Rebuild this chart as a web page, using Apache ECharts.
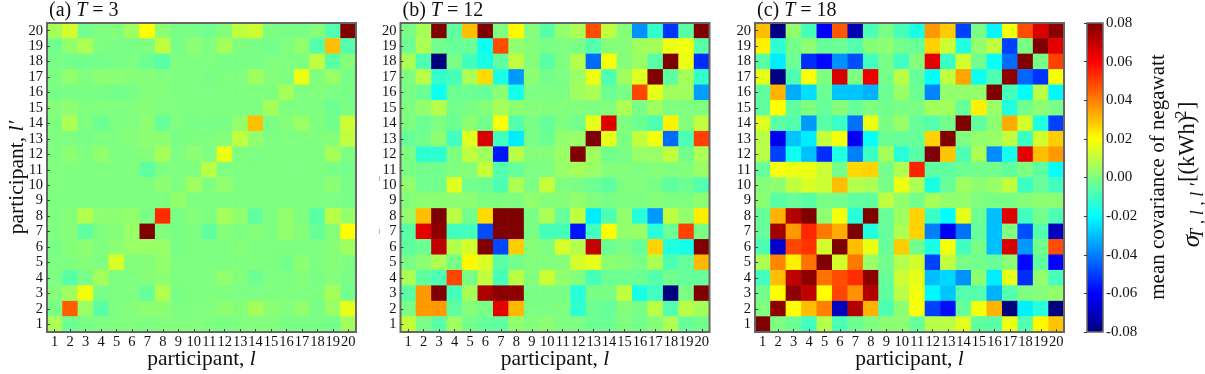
<!DOCTYPE html>
<html>
<head>
<meta charset="utf-8">
<style>
  html, body { margin: 0; padding: 0; background: #fff; }
  #chart { width: 1205px; height: 374px; }
</style>
<script src="https://cdn.jsdelivr.net/npm/echarts@6/dist/echarts.min.js"></script>
</head>
<body>
<div id="chart"></div>
<script>
const participants = ['1','2','3','4','5','6','7','8','9','10','11','12','13','14','15','16','17','18','19','20'];

// values in units of 0.01 (kWh)^2, rows listed from l' = 20 (top) down to l' = 1
const covT3 = [
  [.6,1.3,-.2,0,.05,.5,2,.2,-.1,-.1,-.2,.1,1,1.2,0,-.1,-.1,.1,-.7,8],
  [-.2,.3,.7,0,-.1,-.1,0,1,-.1,.2,0,.6,0,-.1,-.2,0,.3,-.7,3,-.7],
  [-.1,-.2,-.2,-.2,-.1,-.05,-.3,-.6,0,0,0,-.1,-.1,-.1,0,0,0,1,-.6,.1],
  [0,.3,0,.2,.2,.1,.1,0,0,0,-.1,0,0,.5,.1,0,1.7,0,.4,-.1],
  [-.1,-.1,-.1,-.1,-.2,-.1,.1,.1,0,-.05,-.05,0,0,0,0,.6,0,.05,-.05,-.1],
  [.1,.2,0,.05,0,.05,.1,0,0,0,0,0,-.05,0,.6,0,0,0,-.3,-.1],
  [0,.7,0,-.3,0,0,.2,-.4,0,-.1,-.1,-.1,.3,3,-.1,.1,.4,0,-.2,1.2],
  [0,0,-.1,0,0,.1,.2,.2,-.1,0,0,.1,1,.3,-.05,0,0,0,.1,1],
  [0,.2,0,.3,0,0,.1,.6,0,.2,0,1.7,0,-.05,0,0,0,0,.6,0],
  [0,0,0,0,0,0,-.5,0,0,0,.9,0,0,0,0,0,-.05,0,-.1,-.2],
  [0,0,0,0,0,0,0,.2,0,.5,0,.3,0,0,0,0,0,0,.2,-.1],
  [0,0,0,0,0,0,0,0,.3,0,0,0,0,0,0,0,0,0,-.05,-.1],
  [0,.1,.8,.2,.2,.3,-.1,5.3,-.1,.1,0,.6,.3,-.5,0,.3,0,-.6,.9,.3],
  [0,.1,-.5,0,.1,.4,8,0,-.1,0,-.5,.1,0,.1,0,.3,.1,-.4,.1,2],
  [-.1,.1,.2,0,.2,.4,.4,.4,-.1,0,0,0,.1,0,0,0,0,0,.1,.5],
  [0,0,.1,0,1.4,.1,.1,.3,0,0,0,0,0,0,0,-.2,.2,0,.1,0],
  [-.05,-.6,-.1,.6,0,0,.1,.2,0,0,0,.3,.05,-.3,0,0,.1,-.1,.1,-.1],
  [.1,.5,1.8,-.1,0,0,-.4,.8,-.1,0,0,0,-.05,-.05,0,0,0,0,.6,-.2],
  [-.1,4.5,.4,-.6,0,.1,.2,.2,0,0,.05,.2,.1,.6,.2,.05,.3,-.1,.4,1.6],
  [.7,-.3,-.1,-.05,0,.05,-.05,.05,.05,.05,0,-.1,0,.05,.05,-.1,-.1,-.1,-.2,.5]
];

const covT12 = [
  [-.1,.6,8,-.5,3,8,0,2.1,.1,-.6,.3,.7,4.8,1,.1,-3.7,-1.2,-5.2,-.6,8],
  [-.3,.7,-.2,-.4,-.3,-1.8,4.8,.3,.1,-.1,0,-.1,-.7,.1,.1,.5,.6,1.7,1.8,-.6],
  [.7,-.8,-8,-.1,-1,-1.6,-.5,1,.1,-.6,0,.8,-4.3,1.9,.1,.4,-.6,8,1.7,-5.3],
  [0,.9,-1.2,-.9,.7,2.6,-1.6,-3.6,.2,-.2,-.05,.4,1.7,-.8,.5,1.5,8,-.5,.6,-1.2],
  [-.1,-.3,-1.8,-.3,-.3,-.4,.2,-1.7,-.05,-.05,-.05,.5,.7,-.3,-.1,4.9,1.6,.5,.5,-3.5],
  [0,.3,.8,-.2,-.1,.1,.6,.2,.1,.05,.05,.05,0,.05,.7,-.1,.5,0,0,0],
  [0,-.3,-.05,-.3,.2,-.2,1.9,-.7,-.1,-.4,0,-.2,1.6,6.5,0,-.3,-.8,2.2,.1,1],
  [-.4,-.2,.2,-1,1.5,6.6,-1,-2.3,-.1,-.3,.3,.4,8,1.6,0,1,1.8,-4.3,-.8,5],
  [0,-1.3,-1.3,0,1,.5,-5.7,.9,.1,.1,.4,8,.5,-.2,-.1,.4,.4,1,-.2,.7],
  [-.1,-.2,-.2,0,.1,1.1,-.7,-.4,-.05,-.05,.4,.6,.4,.1,.05,0,.1,.05,.05,.4],
  [.3,-.2,-.2,1.5,-.2,-.3,-.8,.7,-.05,1.1,0,-.1,-.3,-.5,0,.05,-.1,-.5,-.3,-.7],
  [.1,.2,.2,.2,.2,0,0,0,.3,.1,.1,.3,.05,-.1,0,0,.1,0,0,.2],
  [.3,3,8,.9,-.2,2.6,8,8,-.1,.7,-.4,1,-2.3,-.8,.3,-1.4,-3.6,1,.3,2.3],
  [-.6,6.4,7.8,-1,-.9,-4.8,8,8,-.1,-.9,-.9,-5.7,-1,2,.3,.4,-1.4,-.3,5,-.1],
  [-.5,-.3,7,.8,1.3,8,-4.9,2.8,.1,0,1.4,.8,6.9,-.3,-.1,-.4,2.7,-1.5,-1.7,8],
  [-.1,.2,.7,-.1,2.1,1.4,-.6,-.2,.05,.05,.1,1.3,1.6,.2,.1,-.1,.7,-.8,-.4,3.1],
  [.7,-.5,-.8,4.9,-.1,1,-.9,.9,.05,1.2,.3,.05,-.9,-.3,-.3,-.3,-.7,-.2,-.4,-.4],
  [-.6,3.6,8,-.9,.6,7.3,7.8,7.8,-.1,-.1,-.1,-1.4,-.1,-.1,1,-1.6,-1,-8,-.1,8],
  [-.1,3.6,3.6,-.5,.1,-.1,6.4,3.1,-.05,-.05,0,-1.3,-.3,-.4,.1,-.1,.9,-.7,.9,.6],
  [1.1,-.1,-.6,.5,-.2,-.4,-.5,.3,.05,.2,-.05,-.05,-.3,-.3,0,-.2,.1,.7,-.4,-.2]
];

const covT18 = [
  [3,-7.9,.3,-.9,-6.1,4.6,-7.2,-.8,-.1,-.9,-1.6,3.6,2.8,-5,-.1,-2.1,1.8,4.8,6.6,7.8],
  [2.2,-1.3,-.2,.2,-.4,-.3,-.7,.1,.2,-.2,-.4,2.7,1.2,-1.5,.3,1,-5,-.1,8,6.4],
  [-.6,-2.3,-.3,-5.3,-5.9,-3.7,-4.8,-1,-.1,-1,.1,6.4,-1.1,1.3,-.2,-1.9,-4.3,8,-.1,5],
  [1.6,-8,-.8,1.9,0,6.6,0,6.3,-.2,.9,-.4,-2,1,3.4,-1.8,-.8,7.8,-4.4,-5.2,1.9],
  [-.5,3.2,-3.3,-2.5,-.3,-2.9,-2.9,-3.2,-.3,.4,-.3,-3.9,.3,.3,.3,8,-.9,-2,.9,-2.1],
  [-.5,2,-.5,0,-.4,.1,-.4,0,-.2,-.1,-.1,.6,.5,-.4,2.2,.4,-1.5,-.2,.2,-.1],
  [1.5,-.6,-.7,-3.6,-.6,-1.1,-4.2,1.7,-.1,.4,-.4,-.7,-.2,8,-.5,.2,3.3,1.3,-1.5,-5],
  [.9,-6.2,-2.9,-2.3,1.1,1.8,-6.2,-1.9,-.3,-.4,-.4,2.7,8,0,.3,.4,1,-1.1,1.3,2.8],
  [.9,-5,-1.8,-3,-5.3,-1.5,-4,-1.1,.6,-1.4,-.6,8,2.9,-.8,.7,-3.8,-1.7,6.4,3,3.6],
  [-.4,1.9,1.7,1.7,1.2,-.2,2.6,2.7,-.2,.7,5.5,-.5,-.5,-.3,-.2,-.2,-.5,0,-.5,-1.9],
  [.1,.2,1,1.4,1.2,3,.8,.7,-.1,1.7,.7,-1.6,-.4,.5,.2,.4,1,-1.1,-.4,-1],
  [.2,-.6,-.4,-.6,-.1,-.2,-.5,-.5,1,.3,-.2,.6,.3,.3,0,-.1,-.1,.1,.2,.2],
  [-.4,3.2,7.2,8,.2,1.8,-1.4,8,-.4,.5,2.7,-1.1,-2,1.6,-.3,-3,6.5,-1,-.2,-.8],
  [-.4,7.4,3.6,5.4,4.1,3.3,8,-1.5,-.4,.7,2.7,-4,-6.2,-4.2,-.4,-3,0,-4.8,-.7,-7],
  [-.8,-6.8,4.9,5.2,1.3,8,3,1.7,-.4,2.8,-.2,-1.6,1.8,-1,-.1,-3,6.6,-3.6,-.2,4.8],
  [.7,3.9,2.2,4.2,8,1.3,4.1,.4,-.2,.8,1.3,-5,1,-.1,-.2,-.4,.2,-5.9,-.5,-6],
  [-1,3,7,7.8,4.2,4.8,5.3,7.8,-.4,1.2,1.6,-3,-2.6,-3.7,.2,-2.3,1.6,-5.3,.3,-.9],
  [-.2,2,7.8,7,2,4.9,3.7,7.2,-.5,.9,1.8,-2.1,-2.9,-.7,-.7,-3.2,-.7,0,.1,.3],
  [0,7.8,2,3,4,-7,7.2,3.2,-.8,.2,1.9,-5,-5.8,-.4,1.8,3.2,-8,-2.2,-1.4,-8],
  [8,0,-.3,-1,.8,-.8,-.3,0,.2,.2,-.4,.9,.9,1.5,-.5,-.6,1.7,-.7,2.1,2.9]
];

const panelTitles = ['(a) {i|T} = 3', '(b) {i|T} = 12', '(c) {i|T} = 18'];
const panelLeft = [47, 400.5, 755];
const jetColors = ['#00007f','#0000ff','#007fff','#00ffff','#7fff7f','#ffff00','#ff7f00','#ff0000','#7f0000'];

const serif = '"Liberation Serif", "Times New Roman", serif';
const ink = '#111';
const frame = '#666';
const gridSize = 309;

const toCells = (rows) => {
  const cells = [];
  rows.forEach((row, r) => {
    row.forEach((v, c) => cells.push([c, rows.length - 1 - r, v / 100]));
  });
  return cells;
};

const labelRich = (size) => ({
  i: { fontFamily: serif, fontStyle: 'italic', fontSize: size, color: ink }
});

const cellTick = { show: true, inside: true, alignWithLabel: true, length: 3, lineStyle: { color: '#444', width: 1 } };

const getOptionChart = () => {
  const grids = panelLeft.map((left) => ({
    left: left, top: 23, width: gridSize, height: gridSize, outerBoundsMode: 'none',
    show: true, z: 5, backgroundColor: 'transparent', borderColor: frame, borderWidth: 2
  }));
  grids.push({
    left: 1087, top: 23, width: 16, height: gridSize, outerBoundsMode: 'none',
    show: true, z: 10, backgroundColor: 'transparent', borderColor: frame, borderWidth: 1.5
  });

  const xAxes = panelLeft.map((_, i) => ({
    type: 'category', gridIndex: i, data: participants, z: 6,
    axisLine: { show: false }, axisTick: cellTick,
    axisLabel: { interval: 0, margin: 3, fontFamily: serif, fontSize: 14.5, color: ink },
    name: 'participant, {i|l}', nameLocation: 'middle', nameGap: 16, nameMoveOverlap: false,
    nameTextStyle: { fontFamily: serif, fontSize: 21.5, color: ink, rich: labelRich(21.5) }
  }));
  xAxes.push({ type: 'value', gridIndex: 3, show: false, min: 0, max: 1 });

  const yAxes = panelLeft.map((_, i) => ({
    type: 'category', gridIndex: i, data: participants, z: 6,
    axisLine: { show: false }, axisTick: cellTick,
    axisLabel: { interval: 0, margin: 4, fontFamily: serif, fontSize: 14.5, color: ink },
    name: i === 0 ? 'participant, {i|l′}' : '', nameLocation: 'middle', nameGap: 19, nameMoveOverlap: false,
    nameTextStyle: { fontFamily: serif, fontSize: 21.5, color: ink, rich: labelRich(21.5) }
  }));
  yAxes.push({
    type: 'value', gridIndex: 3, position: 'right', min: -0.08, max: 0.08, interval: 0.02, z: 10,
    splitLine: { show: false },
    axisLine: { show: false },
    axisTick: { show: true, inside: true, length: 3, lineStyle: { color: '#333' } },
    axisLabel: {
      margin: 3, fontFamily: serif, fontSize: 15, color: ink,
      formatter: (v) => v.toFixed(2)
    }
  });

  return {
    animation: false,
    backgroundColor: '#fff',
    title: panelTitles.map((text, i) => ({
      text: text, left: panelLeft[i] + 2, top: 1, padding: 0,
      textStyle: { fontFamily: serif, fontSize: 20, fontWeight: 'normal', color: ink, rich: labelRich(20) }
    })),
    grid: grids,
    xAxis: xAxes,
    yAxis: yAxes,
    visualMap: {
      type: 'continuous', min: -0.08, max: 0.08, seriesIndex: [0, 1, 2],
      left: 1087, top: 23, itemWidth: 16, itemHeight: gridSize, padding: 0,
      text: ['', ''], showLabel: false, calculable: false, realtime: false,
      inRange: { color: jetColors }
    },
    series: [covT3, covT12, covT18].map((rows, i) => ({
      type: 'heatmap', xAxisIndex: i, yAxisIndex: i, data: toCells(rows),
      itemStyle: { borderWidth: 0 }, emphasis: { disabled: true }, progressive: 0
    })),
    graphic: [
      {
        type: 'text', rotation: Math.PI / 2, x: 1158, y: 177, z: 20,
        style: { text: 'mean covariance of negawatt', fontFamily: serif, fontSize: 21, fill: ink, align: 'center', verticalAlign: 'middle' }
      },
      {
        type: 'text', rotation: Math.PI / 2, x: 1192, y: 241, z: 20,
        style: { text: 'σ', fontFamily: serif, fontStyle: 'italic', fontSize: 25, fill: ink, align: 'center', verticalAlign: 'middle' }
      },
      {
        type: 'text', rotation: Math.PI / 2, x: 1198, y: 211, z: 20,
        style: { text: 'T , l , l ′', fontFamily: serif, fontStyle: 'italic', fontSize: 18, fill: ink, align: 'center', verticalAlign: 'middle' }
      },
      {
        type: 'text', rotation: Math.PI / 2, x: 1188, y: 182, z: 20,
        style: { text: '[(kWh)', fontFamily: serif, fontSize: 22.5, fill: ink, align: 'left', verticalAlign: 'middle' }
      },
      {
        type: 'text', rotation: Math.PI / 2, x: 1182, y: 119, z: 20,
        style: { text: '2', fontFamily: serif, fontSize: 17, fill: ink, align: 'left', verticalAlign: 'middle' }
      },
      {
        type: 'text', rotation: Math.PI / 2, x: 1188, y: 109, z: 20,
        style: { text: ']', fontFamily: serif, fontSize: 22.5, fill: ink, align: 'left', verticalAlign: 'middle' }
      },
      // two faint stray marks left of panel (b) in the source figure
      { type: 'line', shape: { x1: 379.5, y1: 176, x2: 379.5, y2: 181 }, style: { stroke: '#bbb', lineWidth: 1 } },
      { type: 'line', shape: { x1: 379.5, y1: 229, x2: 379.5, y2: 234 }, style: { stroke: '#bbb', lineWidth: 1 } }
    ]
  };
};

const initCharts = () => {
  const chart = echarts.init(document.getElementById('chart'), null, { renderer: 'canvas' });
  chart.setOption(getOptionChart());
};

window.addEventListener('load', () => {
  initCharts();
});
</script>
</body>
</html>
